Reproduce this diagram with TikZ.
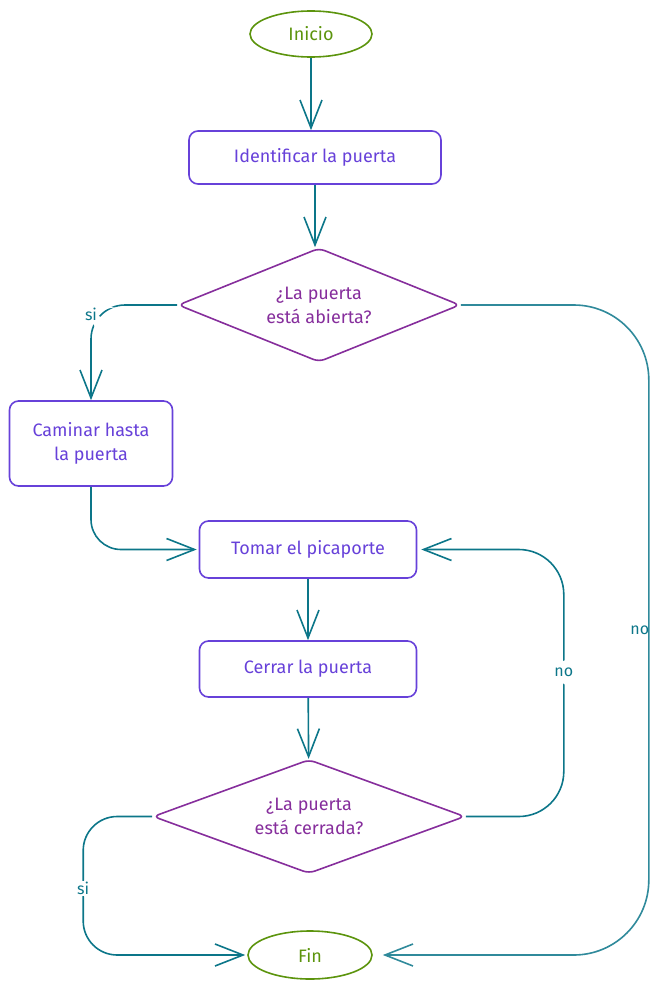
\documentclass[tikz,border=0pt]{standalone}
\usepackage{fontspec}
\setmainfont{Fira Sans}
\usepackage{tikz}
\usetikzlibrary{arrows.meta,positioning,shapes.geometric,calc}
\definecolor{cgreen}{RGB}{92,148,13}
\definecolor{cviolet}{RGB}{103,65,217}
\definecolor{cplum}{RGB}{134,46,156}
\definecolor{cteal}{RGB}{12,118,137}
\tikzset{
  term/.style={draw=cgreen, ellipse, line width=1.6pt, text=cgreen, minimum width=122pt, minimum height=46pt, inner sep=0pt, font=\fontsize{18}{21}\selectfont},
  proc/.style={draw=cviolet, rounded corners=9pt, line width=1.6pt, text=cviolet, align=center, font=\fontsize{18}{24}\selectfont},
  cond/.style={draw=cplum, diamond, aspect=2.5, rounded corners=6pt, line width=1.6pt, text=cplum, align=center, inner sep=0pt, font=\fontsize{18}{24}\selectfont},
  flow/.style={-{Straight Barb[length=28pt, width=22pt]}, line width=1.6pt, cteal},
  lbl/.style={fill=white, text=cteal, inner sep=1pt, font=\fontsize{16}{18}\selectfont},
}
\begin{document}
\begin{tikzpicture}[x=1pt, y=-1pt]
  \useasboundingbox (0,0) rectangle (663,990);
  % main column
  \node[term] (ini) at (311,34) {Inicio};
  \node[proc, minimum width=252pt, minimum height=53pt] (ident) at (315,157.5) {Identificar la puerta};
  \node[cond, minimum width=282pt, minimum height=114pt] (abierta) at (319,305) {¿La puerta\\está abierta?};
  \node[proc, minimum width=163pt, minimum height=85pt] (caminar) at (91,443.5) {Caminar hasta\\la puerta};
  \node[proc, minimum width=217pt, minimum height=57pt] (tomar) at (308,549.5) {Tomar el picaporte};
  \node[proc, minimum width=217pt, minimum height=56pt] (cerrar) at (308,669) {Cerrar la puerta};
  \node[cond, minimum width=312pt, minimum height=114pt] (cerrada) at (309,816.5) {¿La puerta\\está cerrada?};
  \node[term, minimum width=124pt, minimum height=48pt] (fin) at (310,955) {Fin};
  % straight steps
  \draw[flow] (ini) -- (ini |- ident.north);
  \draw[flow] (ident) -- (ident |- abierta.north);
  \draw[flow] (tomar) -- (cerrar);
  \draw[flow] (cerrar) -- (cerrada);
  % branches
  \draw[flow, rounded corners=34pt] (abierta.west) -| node[lbl, pos=0.55] {si} (caminar.north);
  \draw[flow, rounded corners=30pt, shorten >=2pt] (caminar.south) |- (tomar.west);
  \draw[flow, rounded corners=75pt, shorten >=10pt, cteal!85] (abierta.east) -- ++(188,0) |- node[lbl, pos=0.25, xshift=-9pt, fill=none] {no} (fin.east);
  \draw[flow, rounded corners=45pt, shorten >=4pt] (cerrada.east) -- ++(98,0) |- node[lbl, pos=0.27] {no} (tomar.east);
  \draw[flow, rounded corners=34pt, shorten >=2pt] (cerrada.west) -- ++(-69,0) |- node[lbl, pos=0.26] {si} (fin.west);
\end{tikzpicture}
\end{document}
